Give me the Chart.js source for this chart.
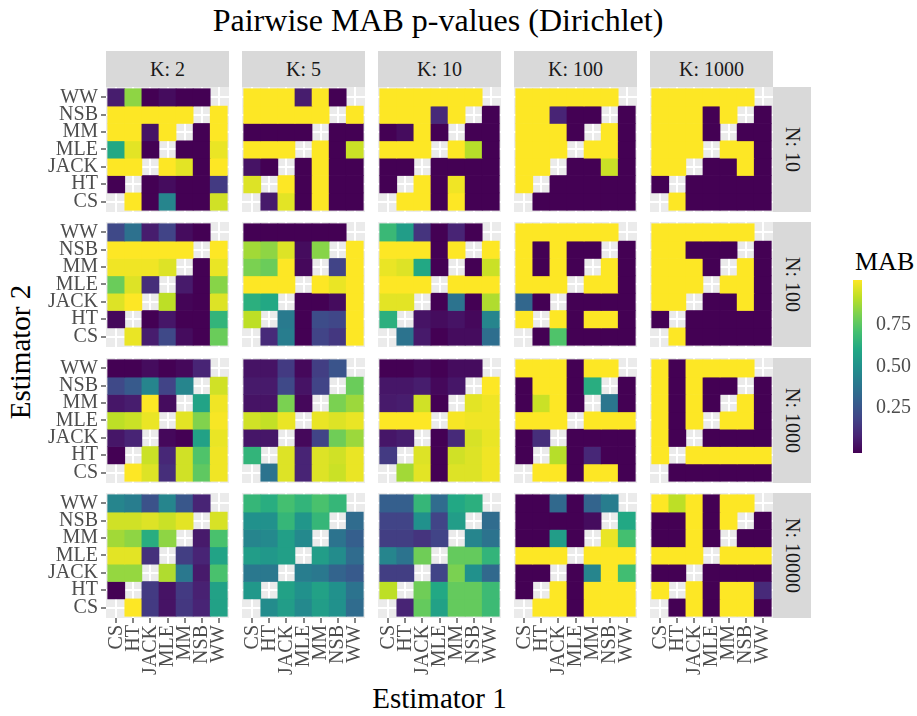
<!DOCTYPE html>
<html>
<head>
<meta charset="utf-8">
<title>Pairwise MAB p-values (Dirichlet)</title>
<script src="https://cdn.jsdelivr.net/npm/chart.js@4.4.1/dist/chart.umd.min.js"></script>
<style>
  html, body { margin:0; padding:0; background:#fff; }
  #page { position:relative; width:917px; height:716px; overflow:hidden; font-family:"Liberation Serif","Times New Roman",serif; }
  .strip { position:absolute; background:#d9d9d9; color:#1a1a1a; font-size:20px; display:flex; align-items:center; justify-content:center; white-space:nowrap; }
  .strip.side span { display:block; transform:rotate(90deg); }
  .lbl { position:absolute; color:#000; white-space:nowrap; line-height:1; }
  canvas { position:absolute; }
</style>
</head>
<body>
<div id="page">
  <div class="lbl" style="left:0;width:876px;top:4px;font-size:32px;text-align:center;">Pairwise MAB p-values (Dirichlet)</div>
  <div class="lbl" style="left:106px;width:667px;top:684px;font-size:29px;text-align:center;">Estimator 1</div>
  <div class="lbl" style="left:20px;top:352px;font-size:29px;transform:translate(-50%,-50%) rotate(-90deg);">Estimator 2</div>
  <div class="lbl" style="left:855px;top:249px;font-size:26px;">MAB</div>
</div>
<script>
// estimators on both axes (x = Estimator 1, y = Estimator 2)
const estimators = ['CS','HT','JACK','MLE','MM','NSB','WW'];
const kLabels = ['K: 2','K: 5','K: 10','K: 100','K: 1000'];
const nLabels = ['N: 10','N: 100','N: 1000','N: 10000'];
const legendTicks = [0.25, 0.5, 0.75];

// each matrix: rows top->bottom = WW, NSB, MM, MLE, JACK, HT, CS ; columns = CS..WW
const n10k2 = [
  [0.08,0.83,0,0.03,0,0,null],
  [1,1,1,1,1,null,1],
  [1,1,0.05,1,null,0,1],
  [0.6,0.96,0,null,0,0,0.97],
  [1,1,null,1,0.96,0,1],
  [0,null,0,0.03,0,0,0.17],
  [null,1,0,0.45,0,0,0.93]
];
const n10k5 = [
  [1,1,1,0.08,1,0,null],
  [1,1,1,1,1,null,1],
  [0,0,0,0,null,0,0],
  [1,1,1,null,1,0,0.92],
  [0.05,0,null,0,1,0,0],
  [0.95,null,1,0,1,0,0],
  [null,0.07,0.96,0,1,0,0]
];
const n10k10 = [
  [1,1,1,1,1,1,null],
  [1,1,1,0.12,1,null,0],
  [0,0.03,1,0,null,0,0],
  [1,1,1,null,1,0.89,0],
  [0,0,null,0,0,0,0],
  [0,null,1,0,0.98,0,0],
  [null,1,1,0,1,0,0]
];
const n10k100 = [
  [1,1,1,1,1,1,null],
  [1,1,0.1,0,0,null,0],
  [1,1,1,0,null,1,0],
  [1,1,1,null,1,1,0],
  [1,1,null,0,0,0.92,0],
  [1,null,0,0,0,0,0],
  [null,0,0,0,0,0,0]
];
const n10k1000 = [
  [1,1,1,1,1,1,null],
  [1,1,1,0,1,null,0],
  [1,1,1,0,null,0,0],
  [1,1,1,null,1,1,0],
  [1,1,null,0,0,1,0],
  [0,null,0,0,0,0,0],
  [null,1,0,0,0,0,0]
];
const n100k2 = [
  [0.22,0.37,0.08,0.2,0.03,0,null],
  [1,1,1,1,1,null,1],
  [0.98,0.98,0.98,0.95,null,0,0.97],
  [0.77,0.95,0.13,null,0.07,0,0.82],
  [0.95,1,null,0.9,0.01,0,0.95],
  [0.02,null,0,0.06,0,0,0.65],
  [null,0.97,0.08,0.22,0.03,0,0.77]
];
const n100k5 = [
  [0,0,0,0,0,0,null],
  [0.86,0.83,0.95,0.03,0.82,null,1],
  [0.8,0.77,1,0.02,null,0.2,1],
  [1,1,1,null,1,0.97,1],
  [0.63,0.6,null,0,0,0.03,1],
  [0.9,null,0.41,0,0.23,0.21,1],
  [null,0.12,0.42,0,0.2,0.16,1]
];
const n100k10 = [
  [0.67,0.55,0.15,0,0.1,0,null],
  [1,1,1,0,1,null,1],
  [0.97,0.95,0.6,0,null,0,0.92],
  [1,1,1,null,1,1,1],
  [0.96,0.96,null,0,0.38,0,0.88],
  [0.63,null,0.05,0.03,0.05,0.02,0.45],
  [null,0.38,0.07,0,0.03,0.03,0.36]
];
const n100k100 = [
  [1,1,1,1,1,1,null],
  [1,0,1,0,0,null,0],
  [1,0,1,0,null,1,0],
  [1,1,1,null,1,1,0],
  [0.33,0,null,0,0,0,0],
  [1,null,1,0,1,1,0],
  [null,0,0.72,0,0,0,0]
];
const n100k1000 = [
  [1,1,1,1,1,1,null],
  [1,1,0,0,0,null,0],
  [1,1,1,0,null,1,0],
  [1,1,1,null,1,1,0],
  [1,1,null,0,0,1,0],
  [0,null,0,0,0,0,0],
  [null,1,0,0,0,0,0]
];
const n1000k2 = [
  [0,0,0.03,0,0.02,0.1,null],
  [0.22,0.28,0.45,0.2,0.45,null,0.93],
  [0.06,0.08,1,0.03,null,0.58,0.98],
  [0.9,0.92,0.97,null,0.96,0.81,0.99],
  [0.06,0.1,null,0.02,0,0.57,0.97],
  [0,null,0.92,0.11,0.93,0.72,0.98],
  [null,1,0.95,0.13,0.93,0.75,0.98]
];
const n1000k5 = [
  [0.05,0.05,0.17,0.02,0.18,0.26,null],
  [0.07,0.07,0.22,0.05,0.2,null,0.77],
  [0.05,0.05,0.8,0.02,null,0.8,0.85],
  [0.93,0.91,0.97,null,0.97,0.95,0.97],
  [0.06,0.06,null,0.02,0.2,0.78,0.85],
  [0.65,null,0.95,0.1,0.95,0.93,0.97],
  [null,0.38,0.95,0.1,0.95,0.92,0.97]
];
const n1000k10 = [
  [0,0,0.02,0,0.03,0.03,null],
  [0.06,0.06,0.08,0.02,0.06,null,1],
  [0.07,0.08,0.93,0,null,0.96,0.98],
  [1,1,1,null,0.99,0.98,0.98],
  [0.06,0.08,null,0,0.12,0.94,0.97],
  [0.17,null,0.95,0,0.93,0.95,0.98],
  [null,0.86,0.96,0,0.95,0.95,0.98]
];
const n1000k100 = [
  [1,1,1,0,1,1,null],
  [0,1,1,0,0.62,null,0],
  [0,0.92,1,0,null,0.39,0],
  [1,1,1,null,1,1,1],
  [0,0.13,null,0,0,0,0],
  [0,null,0.89,0,0.11,0,0],
  [null,1,1,0,1,1,0]
];
const n1000k1000 = [
  [1,0,1,1,1,1,null],
  [1,0,1,0,0,null,0],
  [1,0,1,0,null,1,0],
  [1,0,1,null,1,1,0],
  [1,0,null,0,0,0,0],
  [1,null,1,1,1,1,1],
  [null,0,0,0,0,0,0]
];
const n10000k2 = [
  [0.45,0.42,0.25,0.45,0.27,0.1,null],
  [0.93,0.93,0.95,0.92,0.96,null,0.94],
  [0.86,0.83,0.62,0.83,null,0.07,0.71],
  [0.96,0.96,0.14,null,0.18,0.1,0.58],
  [0.84,0.84,null,0.88,0.4,0.07,0.71],
  [0,null,0.17,0.05,0.17,0.09,0.57],
  [null,1,0.17,0.05,0.16,0.1,0.57]
];
const n10000k5 = [
  [0.66,0.62,0.7,0.65,0.71,0.66,null],
  [0.5,0.5,0.66,0.52,0.66,null,0.35],
  [0.45,0.47,0.56,0.47,null,0.38,0.3],
  [0.55,0.53,0.56,null,0.55,0.48,0.35],
  [0.4,0.4,null,0.42,0.4,0.32,0.28],
  [0.53,null,0.57,0.5,0.57,0.5,0.38],
  [null,0.48,0.55,0.47,0.55,0.5,0.35]
];
const n10000k10 = [
  [0.3,0.3,0.66,0.35,0.6,0.63,null],
  [0.2,0.2,0.5,0.2,0.55,null,0.35],
  [0.18,0.18,0.15,0.2,null,0.45,0.38],
  [0.45,0.38,0.78,null,0.76,0.76,0.65],
  [0.18,0.18,null,0.2,0.8,0.5,0.34],
  [0.9,null,0.78,0.6,0.76,0.76,0.68],
  [null,0.1,0.76,0.57,0.76,0.76,0.68]
];
const n10000k100 = [
  [0,0,0.34,0,0.32,0.42,null],
  [0,0,0,0,0.03,null,0.6],
  [0,0,0.55,0,null,0.97,0.7],
  [1,1,1,null,1,1,1],
  [0,0,null,0,0.45,1,0.69],
  [0,null,1,0,1,1,1],
  [null,1,1,0,1,1,1]
];
const n10000k1000 = [
  [1,0.9,1,0,1,1,null],
  [0,0,1,0,1,null,0],
  [0,0,1,0,null,0,0],
  [1,1,1,null,1,1,1],
  [0,0,null,0,0,0,0],
  [1,null,1,0,1,1,0.12],
  [null,0,1,0,1,1,0]
];

const panels = [
  [n10k2, n10k5, n10k10, n10k100, n10k1000],
  [n100k2, n100k5, n100k10, n100k100, n100k1000],
  [n1000k2, n1000k5, n1000k10, n1000k100, n1000k1000],
  [n10000k2, n10000k5, n10000k10, n10000k100, n10000k1000]
];

// layout (pixels)
const colLeft = [106, 242, 378, 514, 650];
const panelW = 123;
const rowTop = [87, 222, 358, 493];
const panelH = 125;
const FONT = "'Liberation Serif', 'Times New Roman', serif";

const viridisStops = ['#440154','#482475','#414487','#355f8d','#2a788e','#21918c','#22a884','#44bf70','#7ad151','#bddf26','#fde725'];
const stopRgb = viridisStops.map(h => [1,3,5].map(i => parseInt(h.slice(i, i+2), 16)));
function viridis(v){
  const t = Math.min(1, Math.max(0, v)) * (stopRgb.length - 1);
  const i = Math.min(stopRgb.length - 2, Math.floor(t));
  const f = t - i;
  const a = stopRgb[i], b = stopRgb[i+1];
  return 'rgb(' + a.map((c,k) => Math.round(c + (b[k]-c)*f)).join(',') + ')';
}

const panelBg = {
  id: 'panelBg',
  beforeDraw(chart){
    const a = chart.chartArea, c = chart.ctx;
    c.save();
    c.fillStyle = '#ebebeb';
    c.fillRect(a.left, a.top, a.right - a.left, a.bottom - a.top);
    c.restore();
  }
};

const page = document.getElementById('page');

function fixSize(size, prop){
  return s => {
    s[prop] = size;
    s.paddingTop = 0; s.paddingBottom = 0; s.paddingLeft = 0; s.paddingRight = 0;
  };
}
function catTicks(s){ s.ticks = estimators.map((_, i) => ({value: i})); }

function makePanel(mat, c, r){
  const left = c === 0 ? 0 : colLeft[c];
  const yAxisW = c === 0 ? colLeft[0] : 0;
  const xAxisH = r === 3 ? 72 : 0;
  const w = colLeft[c] + panelW - left;
  const h = panelH + xAxisH;
  const cv = document.createElement('canvas');
  cv.width = w; cv.height = h;
  cv.style.left = left + 'px'; cv.style.top = rowTop[r] + 'px';
  cv.style.width = w + 'px'; cv.style.height = h + 'px';
  page.appendChild(cv);

  const datasets = mat.map((row, i) => {
    const yv = 6 - i;
    return {
      data: row.map((v, x) => v === null ? null : {x: x, y: [yv - 0.5, yv + 0.5], v: v}).filter(d => d),
      backgroundColor: ctx => ctx.raw ? viridis(ctx.raw.v) : 'rgba(0,0,0,0)',
      grouped: false,
      categoryPercentage: 1,
      barPercentage: 1,
      borderWidth: 0
    };
  });

  const tickFont = {family: FONT, size: 20};
  new Chart(cv, {
    type: 'bar',
    data: { datasets },
    options: {
      responsive: false,
      animation: false,
      events: [],
      layout: { padding: 0 },
      plugins: { legend: {display: false}, tooltip: {enabled: false} },
      scales: {
        x: {
          type: 'linear', min: -0.6, max: 6.6, offset: false,
          afterBuildTicks: catTicks,
          afterFit: fixSize(xAxisH, 'height'),
          border: {display: false},
          grid: {color: '#ffffff', lineWidth: 2, offset: false, drawTicks: r === 3, tickLength: 5, tickColor: '#333333', tickWidth: 1.2},
          ticks: {display: r === 3, autoSkip: false, minRotation: 90, maxRotation: 90, padding: 2, color: '#4d4d4d', font: tickFont,
                  callback: v => estimators[Math.round(v)]}
        },
        y: {
          type: 'linear', min: -0.6, max: 6.6,
          afterBuildTicks: catTicks,
          afterFit: fixSize(yAxisW, 'width'),
          border: {display: false},
          grid: {color: '#ffffff', lineWidth: 2, drawTicks: c === 0, tickLength: 5, tickColor: '#333333', tickWidth: 1.2},
          ticks: {display: c === 0, autoSkip: false, padding: 3, color: '#4d4d4d', font: tickFont,
                  callback: v => estimators[Math.round(v)]}
        }
      }
    },
    plugins: [panelBg]
  });
}

panels.forEach((row, r) => row.forEach((mat, c) => makePanel(mat, c, r)));

// facet strips
kLabels.forEach((t, c) => {
  const d = document.createElement('div');
  d.className = 'strip';
  d.style.left = colLeft[c] + 'px'; d.style.top = '51px';
  d.style.width = panelW + 'px'; d.style.height = '36px';
  d.textContent = t;
  page.appendChild(d);
});
nLabels.forEach((t, r) => {
  const d = document.createElement('div');
  d.className = 'strip side';
  d.style.left = (colLeft[4] + panelW) + 'px'; d.style.top = rowTop[r] + 'px';
  d.style.width = '38px'; d.style.height = panelH + 'px';
  const s = document.createElement('span');
  s.textContent = t;
  d.appendChild(s);
  page.appendChild(d);
});

// colour bar legend
const legendMin = -0.02, legendMax = 1.02;
(function(){
  const cv = document.createElement('canvas');
  const w = 9 + 60, h = 173;
  cv.width = w; cv.height = h;
  cv.style.left = '853px'; cv.style.top = '280px';
  cv.style.width = w + 'px'; cv.style.height = h + 'px';
  page.appendChild(cv);
  new Chart(cv, {
    type: 'bar',
    data: {
      labels: ['MAB'],
      datasets: [{
        data: [[legendMin, legendMax]],
        backgroundColor: ctx => {
          const a = ctx.chart.chartArea;
          if (!a) return viridis(0.5);
          const g = ctx.chart.ctx.createLinearGradient(0, a.bottom, 0, a.top);
          viridisStops.forEach((col, i) => g.addColorStop(i / (viridisStops.length - 1), col));
          return g;
        },
        categoryPercentage: 1, barPercentage: 1, borderWidth: 0
      }]
    },
    options: {
      responsive: false, animation: false, events: [],
      layout: { padding: 0 },
      plugins: { legend: {display: false}, tooltip: {enabled: false} },
      scales: {
        x: { display: false, offset: true },
        y: {
          position: 'right', min: legendMin, max: legendMax,
          afterBuildTicks: s => { s.ticks = legendTicks.map(v => ({value: v})); },
          afterFit: fixSize(60, 'width'),
          border: {display: false},
          grid: {display: false},
          ticks: {padding: 6, color: '#4d4d4d', font: {family: FONT, size: 20}, callback: v => v.toFixed(2)}
        }
      }
    }
  });
})();
</script>
</body>
</html>
